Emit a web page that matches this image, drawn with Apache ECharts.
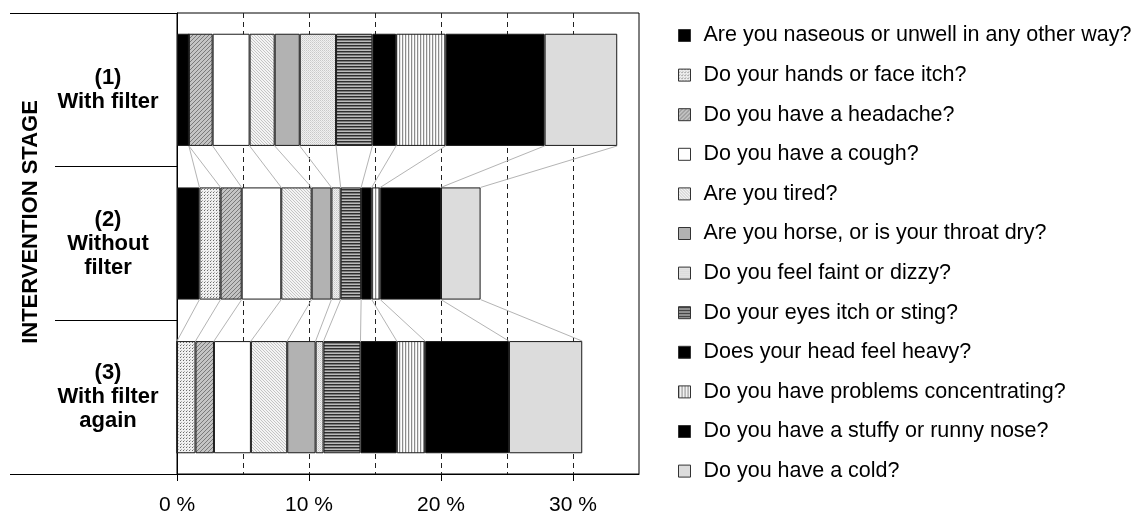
<!DOCTYPE html>
<html>
<head>
<meta charset="utf-8">
<script src="https://cdn.jsdelivr.net/npm/echarts@6/dist/echarts.min.js"></script>
<style>html,body{margin:0;padding:0;background:#fff}#c{width:1148px;height:518px}</style>
</head>
<body>
<div id="c"></div>
<script>
// ---- data ----
const stages = ['(1)\nWith filter', '(2)\nWithout\nfilter', '(3)\nWith filter\nagain'];
const symptoms = [
  'Are you naseous or unwell in any other way?',
  'Do your hands or face itch?',
  'Do you have a headache?',
  'Do you have a cough?',
  'Are you tired?',
  'Are you horse, or is your throat dry?',
  'Do you feel faint or dizzy?',
  'Do your eyes itch or sting?',
  'Does your head feel heavy?',
  'Do you have problems concentrating?',
  'Do you have a stuffy or runny nose?',
  'Do you have a cold?'
];
const naseous       = [0.9, 1.7, 0];
const handsItch     = [0, 1.6, 1.4];
const headache      = [1.8, 1.6, 1.4];
const cough         = [2.8, 3.0, 2.8];
const tired         = [1.9, 2.3, 2.75];
const hoarse        = [1.9, 1.5, 2.15];
const faint         = [2.75, 0.7, 0.6];
const eyesItch      = [2.75, 1.55, 2.8];
const headHeavy     = [1.8, 0.8, 2.75];
const concentrating = [3.75, 0.65, 2.15];
const stuffyNose    = [7.5, 4.6, 6.35];
const cold          = [5.5, 3.0, 5.55];
const xTickValues   = [0, 10, 20, 30];

const seriesValues = [naseous, handsItch, headache, cough, tired, hoarse, faint, eyesItch, headHeavy, concentrating, stuffyNose, cold];

// ---- patterns ----
function tile(w, h, draw) {
  const c = document.createElement('canvas');
  c.width = w; c.height = h;
  const g = c.getContext('2d');
  draw(g);
  return { image: c, repeat: 'repeat' };
}
function px(g, x, y, col) { g.fillStyle = col; g.fillRect(x, y, 1, 1); }
const pDots = tile(3, 3, g => { g.fillStyle = '#f0f0f0'; g.fillRect(0,0,3,3); px(g,0,0,'#6a6a6a'); px(g,1,2,'#b0b0b0'); });
const pHeadache = tile(4, 4, g => { g.fillStyle = '#c4c4c4'; g.fillRect(0,0,4,4); for (let i=0;i<4;i++) px(g,i,3-i,'#7a7a7a'); });
const pTired = tile(3, 3, g => { g.fillStyle = '#f4f4f4'; g.fillRect(0,0,3,3); for (let i=0;i<3;i++) px(g,i,i,'#c4c4c4'); });
const pFaint = tile(2, 2, g => { g.fillStyle = '#f0f0f0'; g.fillRect(0,0,2,2); px(g,0,0,'#c8c8c8'); px(g,1,1,'#d8d8d8'); });
const pEyes = tile(1, 3, g => { px(g,0,0,'#2e2e2e'); px(g,0,1,'#7a7a7a'); px(g,0,2,'#bcbcbc'); });
const pConc = tile(3, 1, g => { px(g,0,0,'#8c8c8c'); px(g,1,0,'#e4e4e4'); px(g,2,0,'#ffffff'); });

const fills = ['#000000', pDots, pHeadache, '#ffffff', pTired, '#b2b2b2', pFaint, pEyes, '#000000', pConc, '#000000', '#dcdcdc'];

// ---- layout ----
const FONT = '"Liberation Sans", Arial, sans-serif';
const gridLeft = 177, gridTop = 13, gridRight = 509, gridBottom = 44;
const BAR_RATIO = 0.73;

const series = seriesValues.map((vals, k) => ({
  name: symptoms[k],
  type: 'bar',
  stack: 'total',
  xAxisIndex: 0,
  barWidth: (BAR_RATIO * 100) + '%',
  data: vals,
  itemStyle: { color: fills[k], borderColor: '#1a1a1a', borderWidth: 1 },
  emphasis: { disabled: true },
  animation: false,
  z: 3
}));

// series lines connecting cumulative ends of adjacent bars
const cums = stages.map((_, r) => {
  let s = 0;
  return seriesValues.map(v => (s += v[r]));
});
const linkData = [];
for (let r = 0; r < stages.length - 1; r++) {
  for (let k = 0; k < seriesValues.length; k++) {
    linkData.push([cums[r][k], cums[r + 1][k], r]);
  }
}
series.push({
  name: 'links',
  type: 'custom',
  xAxisIndex: 0,
  data: linkData,
  encode: { x: [0, 1], y: 2 },
  clip: false,
  silent: true,
  animation: false,
  z: 3,
  renderItem: function (params, api) {
    const r = api.value(2);
    const p1 = api.coord([api.value(0), r]);
    const p2 = api.coord([api.value(1), r + 1]);
    const half = api.size([0, 1])[1] * BAR_RATIO / 2;
    return {
      type: 'line',
      shape: { x1: p1[0], y1: p1[1] + half, x2: p2[0], y2: p2[1] - half },
      style: { stroke: '#b4b4b4', lineWidth: 1 }
    };
  }
});

const chart = echarts.init(document.getElementById('c'), null, { renderer: 'canvas' });
chart.setOption({
  animation: false,
  backgroundColor: '#ffffff',
  textStyle: { fontFamily: FONT },
  grid: { left: gridLeft, top: gridTop, right: gridRight, bottom: gridBottom, show: true, borderColor: '#000', borderWidth: 1, backgroundColor: 'transparent' },
  legend: {
    orient: 'vertical',
    left: 678,
    top: 23.5,
    padding: 0,
    itemWidth: 12,
    itemHeight: 12,
    itemGap: 15.6,
    icon: 'rect',
    data: symptoms,
    selectedMode: false,
    itemStyle: { borderColor: '#333', borderWidth: 1 },
    textStyle: { fontSize: 21.5, color: '#000', fontFamily: FONT, lineHeight: 24, padding: [0, 0, 0, 8] }
  },
  xAxis: [{
    type: 'value',
    min: 0,
    max: 35,
    interval: 5,
    axisLine: { show: true, lineStyle: { color: '#000', width: 1 } },
    axisTick: { show: true, customValues: xTickValues, length: 7, lineStyle: { color: '#000' } },
    axisLabel: { customValues: xTickValues, formatter: v => v + ' %', fontSize: 21, color: '#000', margin: 21, fontFamily: FONT },
    splitLine: { show: false },
    z: 2
  }, {
    type: 'value',
    position: 'bottom',
    min: 0,
    max: 35,
    interval: 5,
    axisLine: { show: false },
    axisTick: { show: false },
    axisLabel: { show: false },
    splitLine: { show: true, showMinLine: false, showMaxLine: false, lineStyle: { color: '#222', type: [5, 4], width: 1 } },
    z: 1
  }],
  yAxis: {
    type: 'category',
    inverse: true,
    data: stages,
    axisLine: { show: true, lineStyle: { color: '#000', width: 1 } },
    axisTick: { show: true, length: 122, lineStyle: { color: '#000', width: 1 } },
    axisLabel: { fontSize: 22, fontWeight: 'bold', color: '#000', align: 'center', margin: 69, lineHeight: 24, fontFamily: FONT },
    splitLine: { show: false }
  },
  graphic: [
    { type: 'line', shape: { x1: 10, y1: gridTop + 0.5, x2: gridLeft, y2: gridTop + 0.5 }, style: { stroke: '#000', lineWidth: 1 } },
    { type: 'line', shape: { x1: 10, y1: 518 - gridBottom + 0.5, x2: gridLeft, y2: 518 - gridBottom + 0.5 }, style: { stroke: '#000', lineWidth: 1 } },
    { type: 'text', x: 31, y: 222, rotation: Math.PI / 2, style: { text: 'INTERVENTION STAGE', font: 'bold 22px ' + FONT, fill: '#000', textAlign: 'center', textVerticalAlign: 'middle' } }
  ],
  series: series
});
</script>
</body>
</html>
